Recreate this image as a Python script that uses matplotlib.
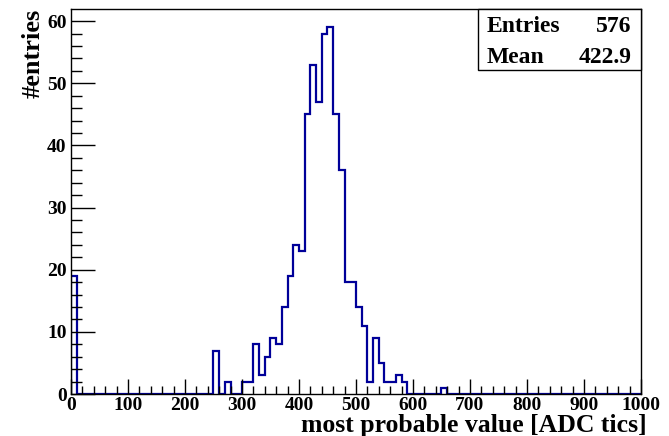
import numpy as np
import matplotlib
matplotlib.use('Agg')
import matplotlib.pyplot as plt
from matplotlib.ticker import MultipleLocator

# non-empty bins: lower edge [ADC tics] and number of entries
bin_low = [0, 250, 270, 300, 310, 320, 330, 340, 350, 360, 370, 380, 390,
           400, 410, 420, 430, 440, 450, 460, 470, 480, 490, 500, 510, 520,
           530, 540, 550, 560, 570, 580, 650]
bin_cnt = [19, 7, 2, 2, 2, 8, 3, 6, 9, 8, 14, 19, 24,
           23, 45, 53, 47, 58, 59, 45, 36, 18, 18, 14, 11, 2,
           9, 5, 2, 2, 3, 2, 1]
bin_width = 10
x_min, x_max = 0, 1000
stat_entries = '576'
stat_mean = '422.9'

edges = np.arange(x_min, x_max + bin_width, bin_width)
counts = np.zeros(len(edges) - 1)
for lo, c in zip(bin_low, bin_cnt):
    counts[int((lo - x_min) // bin_width)] = c

plt.rcParams['font.family'] = ['Liberation Serif', 'DejaVu Serif']
plt.rcParams['font.weight'] = 'bold'

fig = plt.figure(figsize=(6.69, 4.36), dpi=100)
ax = fig.add_axes([0.106, 0.0963, 0.852, 0.883])

ax.stairs(counts, edges, baseline=0, color='#000099', linewidth=1.6)

ax.set_xlim(x_min, x_max)
ax.set_ylim(0, 1.05 * counts.max())

ax.xaxis.set_major_locator(MultipleLocator(100))
ax.xaxis.set_minor_locator(MultipleLocator(20))
ax.yaxis.set_major_locator(MultipleLocator(10))
ax.yaxis.set_minor_locator(MultipleLocator(2))
ax.tick_params(which='both', direction='in', top=False, right=False, width=1)
ax.tick_params(axis='x', which='major', length=11, labelsize=14, pad=2)
ax.tick_params(axis='x', which='minor', length=6)
ax.tick_params(axis='y', which='major', length=17, labelsize=14, pad=3)
ax.tick_params(axis='y', which='minor', length=8)
for lab in ax.get_xticklabels() + ax.get_yticklabels():
    lab.set_fontweight('bold')
for s in ax.spines.values():
    s.set_linewidth(1)

fig.text(647 / 669, 4 / 436, 'most probable value [ADC tics]', fontsize=18.5,
         fontweight='bold', ha='right', va='baseline')
ax.set_ylabel('#entries', fontsize=19, fontweight='bold', loc='top', labelpad=2)

# stats box
bx0 = (478 - 71) / 570
by0 = 1 - (70 - 9) / 385
ax.add_patch(plt.Rectangle((bx0, by0), 1 - bx0, 1 - by0, transform=ax.transAxes,
                           facecolor='white', edgecolor='black', linewidth=1,
                           clip_on=False, zorder=5))
tl = (487 - 71) / 570
tr = (632 - 71) / 570
ax.text(tl, 0.940, 'Entries', transform=ax.transAxes, fontsize=17,
        fontweight='bold', va='baseline', ha='left', zorder=6)
ax.text(tr, 0.940, stat_entries, transform=ax.transAxes, fontsize=17,
        fontweight='bold', va='baseline', ha='right', zorder=6)
ax.text(tl, 0.860, 'Mean', transform=ax.transAxes, fontsize=17,
        fontweight='bold', va='baseline', ha='left', zorder=6)
ax.text(tr, 0.860, stat_mean, transform=ax.transAxes, fontsize=17,
        fontweight='bold', va='baseline', ha='right', zorder=6)

fig.savefig('out.png', dpi=100)
